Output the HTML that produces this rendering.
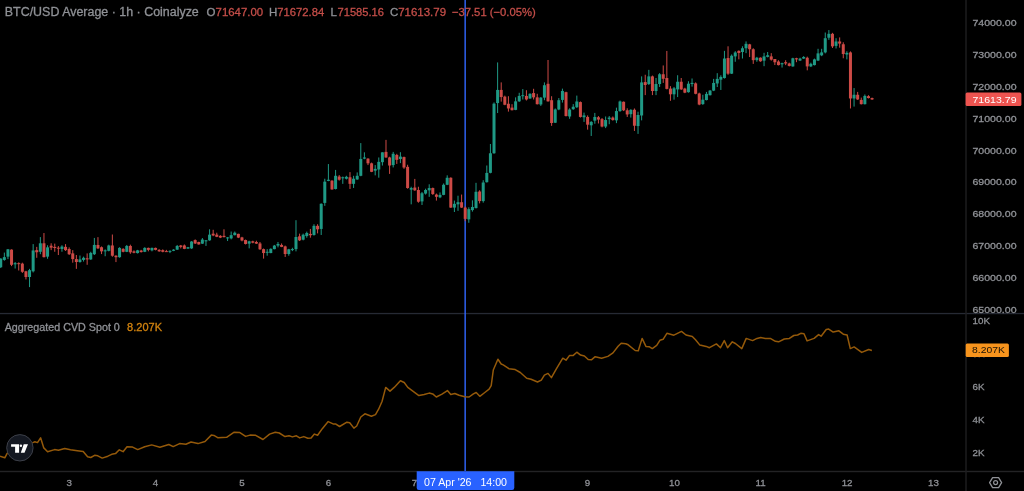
<!DOCTYPE html>
<html><head><meta charset="utf-8"><style>
html,body{margin:0;padding:0;background:#000;width:1024px;height:491px;overflow:hidden}
svg{position:absolute;left:0;top:0;font-family:"Liberation Sans",sans-serif;will-change:transform;filter:blur(0.3px)}
text{stroke-width:0.3px}
</style></head><body>
<svg width="1024" height="491" viewBox="0 0 1024 491">
<rect width="1024" height="491" fill="#000"/>
<g>
<rect x="0" y="312.9" width="1024" height="1.3" fill="#262a34"/>
<rect x="0" y="470.8" width="1024" height="1.4" fill="#232325"/>
<rect x="965.3" y="0" width="1.4" height="491" fill="#1e1e20"/>
</g>
<rect x="464.45" y="0" width="1.4" height="471" fill="#3268ff"/>
<g>
<rect x="0.24" y="258.27" width="1" height="9.77" fill="#1f9985"/>
<rect x="-0.76" y="258.60" width="3.0" height="8.63" fill="#1f9985"/>
<rect x="3.84" y="252.57" width="1" height="8.14" fill="#1f9985"/>
<rect x="2.84" y="257.13" width="3.0" height="2.77" fill="#1f9985"/>
<rect x="7.44" y="248.99" width="1" height="10.10" fill="#1f9985"/>
<rect x="6.44" y="249.32" width="3.0" height="7.33" fill="#1f9985"/>
<rect x="11.04" y="249.32" width="1" height="16.78" fill="#cd4a46"/>
<rect x="10.04" y="249.64" width="3.0" height="15.15" fill="#cd4a46"/>
<rect x="14.64" y="262.02" width="1" height="6.51" fill="#1f9985"/>
<rect x="13.64" y="263.16" width="3.0" height="1.14" fill="#1f9985"/>
<rect x="18.24" y="262.35" width="1" height="8.14" fill="#cd4a46"/>
<rect x="17.24" y="263.16" width="3.0" height="1.00" fill="#cd4a46"/>
<rect x="21.84" y="262.67" width="1" height="10.26" fill="#cd4a46"/>
<rect x="20.84" y="263.65" width="3.0" height="8.14" fill="#cd4a46"/>
<rect x="25.44" y="270.81" width="1" height="8.63" fill="#cd4a46"/>
<rect x="24.44" y="271.30" width="3.0" height="5.70" fill="#cd4a46"/>
<rect x="29.04" y="268.86" width="1" height="18.24" fill="#1f9985"/>
<rect x="28.04" y="270.16" width="3.0" height="6.84" fill="#1f9985"/>
<rect x="32.65" y="244.10" width="1" height="28.34" fill="#1f9985"/>
<rect x="31.65" y="250.46" width="3.0" height="20.85" fill="#1f9985"/>
<rect x="36.25" y="246.87" width="1" height="10.91" fill="#cd4a46"/>
<rect x="35.25" y="250.13" width="3.0" height="2.12" fill="#cd4a46"/>
<rect x="39.85" y="237.10" width="1" height="17.10" fill="#1f9985"/>
<rect x="38.85" y="243.29" width="3.0" height="8.47" fill="#1f9985"/>
<rect x="43.45" y="233.03" width="1" height="24.43" fill="#cd4a46"/>
<rect x="42.45" y="243.29" width="3.0" height="13.84" fill="#cd4a46"/>
<rect x="47.05" y="245.24" width="1" height="13.52" fill="#1f9985"/>
<rect x="46.05" y="247.36" width="3.0" height="9.28" fill="#1f9985"/>
<rect x="50.65" y="243.29" width="1" height="6.84" fill="#cd4a46"/>
<rect x="49.65" y="245.73" width="3.0" height="1.95" fill="#cd4a46"/>
<rect x="54.25" y="243.62" width="1" height="8.14" fill="#cd4a46"/>
<rect x="53.25" y="246.87" width="3.0" height="1.14" fill="#cd4a46"/>
<rect x="57.85" y="246.06" width="1" height="8.96" fill="#cd4a46"/>
<rect x="56.85" y="247.69" width="3.0" height="1.00" fill="#cd4a46"/>
<rect x="61.45" y="245.24" width="1" height="6.51" fill="#1f9985"/>
<rect x="60.45" y="246.55" width="3.0" height="2.44" fill="#1f9985"/>
<rect x="65.05" y="244.10" width="1" height="6.84" fill="#cd4a46"/>
<rect x="64.05" y="246.87" width="3.0" height="3.26" fill="#cd4a46"/>
<rect x="68.65" y="247.36" width="1" height="7.65" fill="#cd4a46"/>
<rect x="67.65" y="248.99" width="3.0" height="5.21" fill="#cd4a46"/>
<rect x="72.25" y="250.13" width="1" height="12.54" fill="#cd4a46"/>
<rect x="71.25" y="253.39" width="3.0" height="5.70" fill="#cd4a46"/>
<rect x="75.85" y="255.02" width="1" height="13.84" fill="#cd4a46"/>
<rect x="74.85" y="259.09" width="3.0" height="2.93" fill="#cd4a46"/>
<rect x="79.45" y="255.50" width="1" height="7.17" fill="#1f9985"/>
<rect x="78.45" y="259.41" width="3.0" height="2.61" fill="#1f9985"/>
<rect x="83.05" y="256.64" width="1" height="4.89" fill="#1f9985"/>
<rect x="82.05" y="257.79" width="3.0" height="2.12" fill="#1f9985"/>
<rect x="86.65" y="253.39" width="1" height="11.40" fill="#cd4a46"/>
<rect x="85.65" y="258.27" width="3.0" height="1.14" fill="#cd4a46"/>
<rect x="90.25" y="251.76" width="1" height="8.14" fill="#1f9985"/>
<rect x="89.25" y="252.90" width="3.0" height="6.51" fill="#1f9985"/>
<rect x="93.85" y="237.92" width="1" height="17.10" fill="#1f9985"/>
<rect x="92.85" y="244.92" width="3.0" height="9.28" fill="#1f9985"/>
<rect x="97.45" y="237.15" width="1" height="11.73" fill="#cd4a46"/>
<rect x="96.45" y="244.97" width="3.0" height="3.42" fill="#cd4a46"/>
<rect x="101.05" y="246.44" width="1" height="7.62" fill="#cd4a46"/>
<rect x="100.05" y="247.22" width="3.0" height="4.11" fill="#cd4a46"/>
<rect x="104.66" y="249.37" width="1" height="6.84" fill="#1f9985"/>
<rect x="103.66" y="250.35" width="3.0" height="1.00" fill="#1f9985"/>
<rect x="108.26" y="244.68" width="1" height="6.65" fill="#1f9985"/>
<rect x="107.26" y="245.46" width="3.0" height="5.38" fill="#1f9985"/>
<rect x="111.86" y="234.51" width="1" height="22.19" fill="#cd4a46"/>
<rect x="110.86" y="245.46" width="3.0" height="10.26" fill="#cd4a46"/>
<rect x="115.46" y="255.24" width="1" height="6.84" fill="#cd4a46"/>
<rect x="114.46" y="255.72" width="3.0" height="1.47" fill="#cd4a46"/>
<rect x="119.06" y="247.22" width="1" height="10.46" fill="#1f9985"/>
<rect x="118.06" y="247.90" width="3.0" height="9.29" fill="#1f9985"/>
<rect x="122.66" y="248.20" width="1" height="4.11" fill="#cd4a46"/>
<rect x="121.66" y="248.88" width="3.0" height="2.93" fill="#cd4a46"/>
<rect x="126.26" y="244.97" width="1" height="7.14" fill="#1f9985"/>
<rect x="125.26" y="245.95" width="3.0" height="5.87" fill="#1f9985"/>
<rect x="129.86" y="244.68" width="1" height="9.09" fill="#cd4a46"/>
<rect x="128.86" y="245.95" width="3.0" height="6.35" fill="#cd4a46"/>
<rect x="133.46" y="250.35" width="1" height="2.93" fill="#cd4a46"/>
<rect x="132.46" y="251.33" width="3.0" height="1.47" fill="#cd4a46"/>
<rect x="137.06" y="249.86" width="1" height="3.62" fill="#1f9985"/>
<rect x="136.06" y="250.35" width="3.0" height="2.74" fill="#1f9985"/>
<rect x="140.66" y="249.86" width="1" height="2.64" fill="#cd4a46"/>
<rect x="139.66" y="250.54" width="3.0" height="1.56" fill="#cd4a46"/>
<rect x="144.26" y="247.22" width="1" height="4.89" fill="#1f9985"/>
<rect x="143.26" y="247.90" width="3.0" height="3.91" fill="#1f9985"/>
<rect x="147.86" y="247.61" width="1" height="3.71" fill="#cd4a46"/>
<rect x="146.86" y="247.90" width="3.0" height="1.96" fill="#cd4a46"/>
<rect x="151.46" y="247.61" width="1" height="3.71" fill="#1f9985"/>
<rect x="150.46" y="247.90" width="3.0" height="2.44" fill="#1f9985"/>
<rect x="155.06" y="247.61" width="1" height="2.74" fill="#cd4a46"/>
<rect x="154.06" y="247.90" width="3.0" height="1.96" fill="#cd4a46"/>
<rect x="158.66" y="249.17" width="1" height="2.64" fill="#cd4a46"/>
<rect x="157.66" y="249.86" width="3.0" height="1.47" fill="#cd4a46"/>
<rect x="162.26" y="249.37" width="1" height="2.93" fill="#cd4a46"/>
<rect x="161.26" y="250.15" width="3.0" height="1.66" fill="#cd4a46"/>
<rect x="165.86" y="249.86" width="1" height="1.96" fill="#cd4a46"/>
<rect x="164.86" y="251.13" width="3.0" height="1.00" fill="#cd4a46"/>
<rect x="169.46" y="250.35" width="1" height="2.74" fill="#1f9985"/>
<rect x="168.46" y="250.84" width="3.0" height="1.00" fill="#1f9985"/>
<rect x="173.06" y="249.17" width="1" height="1.96" fill="#1f9985"/>
<rect x="172.06" y="249.66" width="3.0" height="1.17" fill="#1f9985"/>
<rect x="176.67" y="244.97" width="1" height="4.89" fill="#1f9985"/>
<rect x="175.67" y="245.95" width="3.0" height="3.71" fill="#1f9985"/>
<rect x="180.27" y="244.97" width="1" height="3.42" fill="#cd4a46"/>
<rect x="179.27" y="245.46" width="3.0" height="1.47" fill="#cd4a46"/>
<rect x="183.87" y="244.48" width="1" height="4.69" fill="#cd4a46"/>
<rect x="182.87" y="245.46" width="3.0" height="3.42" fill="#cd4a46"/>
<rect x="187.47" y="246.93" width="1" height="1.96" fill="#1f9985"/>
<rect x="186.47" y="247.22" width="3.0" height="1.37" fill="#1f9985"/>
<rect x="191.07" y="241.06" width="1" height="7.82" fill="#1f9985"/>
<rect x="190.07" y="241.55" width="3.0" height="6.84" fill="#1f9985"/>
<rect x="194.67" y="239.40" width="1" height="4.59" fill="#cd4a46"/>
<rect x="193.67" y="240.08" width="3.0" height="3.42" fill="#cd4a46"/>
<rect x="198.27" y="241.70" width="1" height="2.93" fill="#cd4a46"/>
<rect x="197.27" y="241.99" width="3.0" height="2.44" fill="#cd4a46"/>
<rect x="201.87" y="238.08" width="1" height="5.87" fill="#1f9985"/>
<rect x="200.87" y="239.55" width="3.0" height="4.11" fill="#1f9985"/>
<rect x="205.47" y="240.04" width="1" height="5.87" fill="#1f9985"/>
<rect x="204.47" y="240.33" width="3.0" height="1.00" fill="#1f9985"/>
<rect x="209.07" y="229.29" width="1" height="11.44" fill="#1f9985"/>
<rect x="208.07" y="234.66" width="3.0" height="5.67" fill="#1f9985"/>
<rect x="212.67" y="229.78" width="1" height="6.35" fill="#cd4a46"/>
<rect x="211.67" y="233.69" width="3.0" height="1.76" fill="#cd4a46"/>
<rect x="216.27" y="232.71" width="1" height="4.40" fill="#cd4a46"/>
<rect x="215.27" y="234.66" width="3.0" height="2.15" fill="#cd4a46"/>
<rect x="219.87" y="235.15" width="1" height="2.93" fill="#cd4a46"/>
<rect x="218.87" y="235.84" width="3.0" height="1.76" fill="#cd4a46"/>
<rect x="223.47" y="229.29" width="1" height="8.11" fill="#cd4a46"/>
<rect x="222.47" y="235.84" width="3.0" height="1.27" fill="#cd4a46"/>
<rect x="227.07" y="237.11" width="1" height="3.91" fill="#1f9985"/>
<rect x="226.07" y="237.40" width="3.0" height="1.00" fill="#1f9985"/>
<rect x="230.67" y="231.53" width="1" height="7.82" fill="#1f9985"/>
<rect x="229.67" y="235.15" width="3.0" height="3.23" fill="#1f9985"/>
<rect x="234.27" y="231.53" width="1" height="3.91" fill="#1f9985"/>
<rect x="233.27" y="232.71" width="3.0" height="2.44" fill="#1f9985"/>
<rect x="237.87" y="233.69" width="1" height="4.40" fill="#cd4a46"/>
<rect x="236.87" y="233.88" width="3.0" height="3.71" fill="#cd4a46"/>
<rect x="241.47" y="236.81" width="1" height="4.50" fill="#cd4a46"/>
<rect x="240.47" y="237.40" width="3.0" height="3.13" fill="#cd4a46"/>
<rect x="245.07" y="239.55" width="1" height="4.89" fill="#cd4a46"/>
<rect x="244.07" y="240.04" width="3.0" height="3.91" fill="#cd4a46"/>
<rect x="248.67" y="240.72" width="1" height="7.62" fill="#1f9985"/>
<rect x="247.67" y="241.31" width="3.0" height="2.35" fill="#1f9985"/>
<rect x="252.28" y="240.72" width="1" height="2.54" fill="#cd4a46"/>
<rect x="251.28" y="241.31" width="3.0" height="1.37" fill="#cd4a46"/>
<rect x="255.88" y="240.72" width="1" height="3.23" fill="#cd4a46"/>
<rect x="254.88" y="241.99" width="3.0" height="1.66" fill="#cd4a46"/>
<rect x="259.48" y="241.99" width="1" height="7.82" fill="#cd4a46"/>
<rect x="258.48" y="243.46" width="3.0" height="5.87" fill="#cd4a46"/>
<rect x="263.08" y="248.54" width="1" height="10.07" fill="#cd4a46"/>
<rect x="262.08" y="249.13" width="3.0" height="3.91" fill="#cd4a46"/>
<rect x="266.68" y="249.13" width="1" height="6.55" fill="#1f9985"/>
<rect x="265.68" y="251.77" width="3.0" height="1.00" fill="#1f9985"/>
<rect x="270.28" y="248.35" width="1" height="4.89" fill="#1f9985"/>
<rect x="269.28" y="248.84" width="3.0" height="4.20" fill="#1f9985"/>
<rect x="273.88" y="244.93" width="1" height="4.40" fill="#1f9985"/>
<rect x="272.88" y="245.61" width="3.0" height="3.52" fill="#1f9985"/>
<rect x="277.48" y="241.99" width="1" height="5.38" fill="#1f9985"/>
<rect x="276.48" y="243.95" width="3.0" height="1.66" fill="#1f9985"/>
<rect x="281.08" y="243.46" width="1" height="3.71" fill="#cd4a46"/>
<rect x="280.08" y="244.93" width="3.0" height="1.96" fill="#cd4a46"/>
<rect x="284.68" y="245.61" width="1" height="11.34" fill="#cd4a46"/>
<rect x="283.68" y="246.39" width="3.0" height="7.62" fill="#cd4a46"/>
<rect x="288.28" y="248.84" width="1" height="6.84" fill="#1f9985"/>
<rect x="287.28" y="249.33" width="3.0" height="4.69" fill="#1f9985"/>
<rect x="291.88" y="247.75" width="1" height="3.36" fill="#1f9985"/>
<rect x="290.88" y="249.09" width="3.0" height="1.00" fill="#1f9985"/>
<rect x="295.48" y="220.19" width="1" height="31.18" fill="#1f9985"/>
<rect x="294.48" y="236.99" width="3.0" height="12.10" fill="#1f9985"/>
<rect x="299.08" y="233.63" width="1" height="7.39" fill="#cd4a46"/>
<rect x="298.08" y="236.32" width="3.0" height="4.03" fill="#cd4a46"/>
<rect x="302.68" y="233.63" width="1" height="6.72" fill="#1f9985"/>
<rect x="301.68" y="234.71" width="3.0" height="4.97" fill="#1f9985"/>
<rect x="306.28" y="231.62" width="1" height="6.05" fill="#1f9985"/>
<rect x="305.28" y="232.96" width="3.0" height="3.09" fill="#1f9985"/>
<rect x="309.88" y="228.93" width="1" height="8.74" fill="#cd4a46"/>
<rect x="308.88" y="233.90" width="3.0" height="1.34" fill="#cd4a46"/>
<rect x="313.48" y="224.23" width="1" height="11.42" fill="#1f9985"/>
<rect x="312.48" y="225.84" width="3.0" height="9.14" fill="#1f9985"/>
<rect x="317.08" y="224.23" width="1" height="9.14" fill="#cd4a46"/>
<rect x="316.08" y="225.84" width="3.0" height="3.49" fill="#cd4a46"/>
<rect x="320.69" y="203.39" width="1" height="31.59" fill="#1f9985"/>
<rect x="319.69" y="203.80" width="3.0" height="25.13" fill="#1f9985"/>
<rect x="324.29" y="178.72" width="1" height="27.13" fill="#1f9985"/>
<rect x="323.29" y="181.65" width="3.0" height="21.26" fill="#1f9985"/>
<rect x="327.89" y="164.06" width="1" height="17.16" fill="#1f9985"/>
<rect x="326.89" y="179.75" width="3.0" height="1.17" fill="#1f9985"/>
<rect x="331.49" y="180.19" width="1" height="9.53" fill="#cd4a46"/>
<rect x="330.49" y="180.63" width="3.0" height="8.80" fill="#cd4a46"/>
<rect x="335.09" y="169.92" width="1" height="19.50" fill="#1f9985"/>
<rect x="334.09" y="175.79" width="3.0" height="13.20" fill="#1f9985"/>
<rect x="338.69" y="175.06" width="1" height="5.57" fill="#cd4a46"/>
<rect x="337.69" y="176.52" width="3.0" height="3.23" fill="#cd4a46"/>
<rect x="342.29" y="176.52" width="1" height="7.33" fill="#1f9985"/>
<rect x="341.29" y="177.26" width="3.0" height="1.03" fill="#1f9985"/>
<rect x="345.89" y="175.79" width="1" height="3.67" fill="#1f9985"/>
<rect x="344.89" y="176.82" width="3.0" height="1.91" fill="#1f9985"/>
<rect x="349.49" y="172.12" width="1" height="16.86" fill="#cd4a46"/>
<rect x="348.49" y="177.26" width="3.0" height="6.60" fill="#cd4a46"/>
<rect x="353.09" y="175.79" width="1" height="12.17" fill="#1f9985"/>
<rect x="352.09" y="178.72" width="3.0" height="5.13" fill="#1f9985"/>
<rect x="356.69" y="172.42" width="1" height="7.33" fill="#1f9985"/>
<rect x="355.69" y="175.79" width="3.0" height="3.67" fill="#1f9985"/>
<rect x="360.29" y="143.09" width="1" height="33.14" fill="#1f9985"/>
<rect x="359.29" y="158.93" width="3.0" height="16.86" fill="#1f9985"/>
<rect x="363.89" y="152.33" width="1" height="6.89" fill="#1f9985"/>
<rect x="362.89" y="157.46" width="3.0" height="1.17" fill="#1f9985"/>
<rect x="367.49" y="158.19" width="1" height="6.89" fill="#cd4a46"/>
<rect x="366.49" y="158.63" width="3.0" height="4.69" fill="#cd4a46"/>
<rect x="371.09" y="162.59" width="1" height="9.53" fill="#cd4a46"/>
<rect x="370.09" y="163.33" width="3.0" height="8.50" fill="#cd4a46"/>
<rect x="374.69" y="165.09" width="1" height="10.26" fill="#1f9985"/>
<rect x="373.69" y="168.90" width="3.0" height="1.76" fill="#1f9985"/>
<rect x="378.29" y="157.46" width="1" height="20.23" fill="#1f9985"/>
<rect x="377.29" y="161.86" width="3.0" height="7.62" fill="#1f9985"/>
<rect x="381.89" y="152.33" width="1" height="13.20" fill="#1f9985"/>
<rect x="380.89" y="152.33" width="3.0" height="9.82" fill="#1f9985"/>
<rect x="385.49" y="139.87" width="1" height="17.89" fill="#cd4a46"/>
<rect x="384.49" y="151.89" width="3.0" height="5.57" fill="#cd4a46"/>
<rect x="389.09" y="156.73" width="1" height="17.16" fill="#cd4a46"/>
<rect x="388.09" y="157.46" width="3.0" height="8.06" fill="#cd4a46"/>
<rect x="392.69" y="151.89" width="1" height="15.54" fill="#1f9985"/>
<rect x="391.69" y="153.79" width="3.0" height="11.29" fill="#1f9985"/>
<rect x="396.30" y="153.82" width="1" height="10.10" fill="#cd4a46"/>
<rect x="395.30" y="154.96" width="3.0" height="4.89" fill="#cd4a46"/>
<rect x="399.90" y="152.19" width="1" height="10.92" fill="#1f9985"/>
<rect x="398.90" y="156.59" width="3.0" height="2.44" fill="#1f9985"/>
<rect x="403.50" y="156.59" width="1" height="12.22" fill="#cd4a46"/>
<rect x="402.50" y="157.08" width="3.0" height="10.43" fill="#cd4a46"/>
<rect x="407.10" y="164.74" width="1" height="23.95" fill="#cd4a46"/>
<rect x="406.10" y="166.86" width="3.0" height="21.18" fill="#cd4a46"/>
<rect x="410.70" y="186.73" width="1" height="17.60" fill="#1f9985"/>
<rect x="409.70" y="188.04" width="3.0" height="1.63" fill="#1f9985"/>
<rect x="414.30" y="178.91" width="1" height="11.89" fill="#cd4a46"/>
<rect x="413.30" y="187.55" width="3.0" height="2.77" fill="#cd4a46"/>
<rect x="417.90" y="186.73" width="1" height="15.97" fill="#cd4a46"/>
<rect x="416.90" y="189.99" width="3.0" height="11.73" fill="#cd4a46"/>
<rect x="421.50" y="191.95" width="1" height="13.03" fill="#1f9985"/>
<rect x="420.50" y="193.25" width="3.0" height="8.15" fill="#1f9985"/>
<rect x="425.10" y="188.69" width="1" height="5.87" fill="#1f9985"/>
<rect x="424.10" y="189.99" width="3.0" height="3.58" fill="#1f9985"/>
<rect x="428.70" y="184.29" width="1" height="12.55" fill="#1f9985"/>
<rect x="427.70" y="188.04" width="3.0" height="2.28" fill="#1f9985"/>
<rect x="432.30" y="187.55" width="1" height="7.33" fill="#cd4a46"/>
<rect x="431.30" y="188.04" width="3.0" height="6.03" fill="#cd4a46"/>
<rect x="435.90" y="193.58" width="1" height="7.01" fill="#cd4a46"/>
<rect x="434.90" y="194.55" width="3.0" height="2.28" fill="#cd4a46"/>
<rect x="439.50" y="192.44" width="1" height="5.70" fill="#1f9985"/>
<rect x="438.50" y="194.88" width="3.0" height="2.44" fill="#1f9985"/>
<rect x="443.10" y="183.47" width="1" height="11.73" fill="#1f9985"/>
<rect x="442.10" y="184.78" width="3.0" height="10.10" fill="#1f9985"/>
<rect x="446.70" y="175.33" width="1" height="9.78" fill="#1f9985"/>
<rect x="445.70" y="177.77" width="3.0" height="7.01" fill="#1f9985"/>
<rect x="450.30" y="177.28" width="1" height="30.63" fill="#cd4a46"/>
<rect x="449.30" y="177.77" width="3.0" height="29.82" fill="#cd4a46"/>
<rect x="453.90" y="200.58" width="1" height="11.41" fill="#1f9985"/>
<rect x="452.90" y="203.84" width="3.0" height="3.75" fill="#1f9985"/>
<rect x="457.50" y="195.69" width="1" height="15.15" fill="#1f9985"/>
<rect x="456.50" y="202.21" width="3.0" height="2.12" fill="#1f9985"/>
<rect x="461.10" y="194.55" width="1" height="13.36" fill="#cd4a46"/>
<rect x="460.10" y="202.21" width="3.0" height="5.38" fill="#cd4a46"/>
<rect x="464.71" y="206.50" width="1" height="14.71" fill="#cd4a46"/>
<rect x="463.71" y="207.59" width="3.0" height="11.30" fill="#cd4a46"/>
<rect x="468.31" y="207.28" width="1" height="15.48" fill="#1f9985"/>
<rect x="467.31" y="209.13" width="3.0" height="10.22" fill="#1f9985"/>
<rect x="471.91" y="200.31" width="1" height="11.30" fill="#1f9985"/>
<rect x="470.91" y="206.97" width="3.0" height="3.10" fill="#1f9985"/>
<rect x="475.51" y="182.82" width="1" height="25.70" fill="#1f9985"/>
<rect x="474.51" y="191.80" width="3.0" height="16.25" fill="#1f9985"/>
<rect x="479.11" y="190.25" width="1" height="13.16" fill="#cd4a46"/>
<rect x="478.11" y="191.49" width="3.0" height="9.60" fill="#cd4a46"/>
<rect x="482.71" y="180.19" width="1" height="22.45" fill="#1f9985"/>
<rect x="481.71" y="182.51" width="3.0" height="18.58" fill="#1f9985"/>
<rect x="486.31" y="165.48" width="1" height="17.03" fill="#1f9985"/>
<rect x="485.31" y="172.91" width="3.0" height="9.29" fill="#1f9985"/>
<rect x="489.91" y="143.98" width="1" height="29.33" fill="#1f9985"/>
<rect x="488.91" y="153.27" width="3.0" height="19.55" fill="#1f9985"/>
<rect x="493.51" y="102.44" width="1" height="51.32" fill="#1f9985"/>
<rect x="492.51" y="103.66" width="3.0" height="49.61" fill="#1f9985"/>
<rect x="497.11" y="62.42" width="1" height="50.61" fill="#1f9985"/>
<rect x="496.11" y="89.93" width="3.0" height="13.12" fill="#1f9985"/>
<rect x="500.71" y="82.38" width="1" height="19.25" fill="#cd4a46"/>
<rect x="499.71" y="89.93" width="3.0" height="7.13" fill="#cd4a46"/>
<rect x="504.31" y="95.64" width="1" height="9.55" fill="#cd4a46"/>
<rect x="503.31" y="96.63" width="3.0" height="8.13" fill="#cd4a46"/>
<rect x="507.91" y="96.21" width="1" height="15.40" fill="#cd4a46"/>
<rect x="506.91" y="103.76" width="3.0" height="4.70" fill="#cd4a46"/>
<rect x="511.51" y="104.19" width="1" height="6.27" fill="#cd4a46"/>
<rect x="510.51" y="107.61" width="3.0" height="2.57" fill="#cd4a46"/>
<rect x="515.11" y="97.35" width="1" height="12.83" fill="#1f9985"/>
<rect x="514.11" y="101.34" width="3.0" height="8.55" fill="#1f9985"/>
<rect x="518.71" y="92.78" width="1" height="9.12" fill="#1f9985"/>
<rect x="517.71" y="95.92" width="3.0" height="5.42" fill="#1f9985"/>
<rect x="522.31" y="89.08" width="1" height="10.41" fill="#1f9985"/>
<rect x="521.31" y="95.21" width="3.0" height="1.00" fill="#1f9985"/>
<rect x="525.91" y="90.22" width="1" height="10.27" fill="#cd4a46"/>
<rect x="524.91" y="95.92" width="3.0" height="3.56" fill="#cd4a46"/>
<rect x="529.51" y="93.35" width="1" height="5.42" fill="#1f9985"/>
<rect x="528.51" y="93.78" width="3.0" height="4.70" fill="#1f9985"/>
<rect x="533.11" y="88.79" width="1" height="10.69" fill="#cd4a46"/>
<rect x="532.11" y="93.07" width="3.0" height="4.28" fill="#cd4a46"/>
<rect x="536.72" y="93.78" width="1" height="10.69" fill="#cd4a46"/>
<rect x="535.72" y="97.35" width="3.0" height="6.84" fill="#cd4a46"/>
<rect x="540.32" y="97.06" width="1" height="8.84" fill="#1f9985"/>
<rect x="539.32" y="97.63" width="3.0" height="6.84" fill="#1f9985"/>
<rect x="543.92" y="82.38" width="1" height="17.82" fill="#1f9985"/>
<rect x="542.92" y="85.23" width="3.0" height="12.40" fill="#1f9985"/>
<rect x="547.52" y="59.99" width="1" height="41.63" fill="#cd4a46"/>
<rect x="546.52" y="83.80" width="3.0" height="17.54" fill="#cd4a46"/>
<rect x="551.12" y="96.21" width="1" height="29.65" fill="#cd4a46"/>
<rect x="550.12" y="100.20" width="3.0" height="22.81" fill="#cd4a46"/>
<rect x="554.72" y="108.47" width="1" height="14.54" fill="#1f9985"/>
<rect x="553.72" y="109.46" width="3.0" height="13.26" fill="#1f9985"/>
<rect x="558.32" y="98.06" width="1" height="12.12" fill="#1f9985"/>
<rect x="557.32" y="100.20" width="3.0" height="9.27" fill="#1f9985"/>
<rect x="561.92" y="88.63" width="1" height="13.93" fill="#1f9985"/>
<rect x="560.92" y="90.95" width="3.0" height="8.97" fill="#1f9985"/>
<rect x="565.52" y="91.72" width="1" height="24.76" fill="#cd4a46"/>
<rect x="564.52" y="92.19" width="3.0" height="23.83" fill="#cd4a46"/>
<rect x="569.12" y="108.28" width="1" height="10.52" fill="#1f9985"/>
<rect x="568.12" y="109.52" width="3.0" height="6.96" fill="#1f9985"/>
<rect x="572.72" y="104.10" width="1" height="5.73" fill="#1f9985"/>
<rect x="571.72" y="106.73" width="3.0" height="2.48" fill="#1f9985"/>
<rect x="576.32" y="95.59" width="1" height="12.38" fill="#1f9985"/>
<rect x="575.32" y="101.47" width="3.0" height="5.73" fill="#1f9985"/>
<rect x="579.92" y="101.47" width="1" height="16.09" fill="#cd4a46"/>
<rect x="578.92" y="102.09" width="3.0" height="14.85" fill="#cd4a46"/>
<rect x="583.52" y="112.61" width="1" height="9.28" fill="#1f9985"/>
<rect x="582.52" y="115.40" width="3.0" height="1.86" fill="#1f9985"/>
<rect x="587.12" y="115.40" width="1" height="14.24" fill="#cd4a46"/>
<rect x="586.12" y="116.94" width="3.0" height="7.74" fill="#cd4a46"/>
<rect x="590.72" y="121.12" width="1" height="14.85" fill="#1f9985"/>
<rect x="589.72" y="121.90" width="3.0" height="3.40" fill="#1f9985"/>
<rect x="594.32" y="112.92" width="1" height="10.83" fill="#1f9985"/>
<rect x="593.32" y="116.94" width="3.0" height="3.71" fill="#1f9985"/>
<rect x="597.92" y="116.02" width="1" height="7.43" fill="#cd4a46"/>
<rect x="596.92" y="117.25" width="3.0" height="2.32" fill="#cd4a46"/>
<rect x="601.52" y="118.03" width="1" height="9.28" fill="#cd4a46"/>
<rect x="600.52" y="119.11" width="3.0" height="7.43" fill="#cd4a46"/>
<rect x="605.12" y="116.48" width="1" height="11.61" fill="#1f9985"/>
<rect x="604.12" y="120.04" width="3.0" height="6.50" fill="#1f9985"/>
<rect x="608.72" y="116.02" width="1" height="8.20" fill="#1f9985"/>
<rect x="607.72" y="117.56" width="3.0" height="1.55" fill="#1f9985"/>
<rect x="612.33" y="116.48" width="1" height="4.18" fill="#cd4a46"/>
<rect x="611.33" y="117.56" width="3.0" height="2.48" fill="#cd4a46"/>
<rect x="615.93" y="107.66" width="1" height="15.47" fill="#1f9985"/>
<rect x="614.93" y="111.06" width="3.0" height="9.28" fill="#1f9985"/>
<rect x="619.53" y="100.54" width="1" height="11.30" fill="#1f9985"/>
<rect x="618.53" y="101.47" width="3.0" height="9.59" fill="#1f9985"/>
<rect x="623.13" y="101.47" width="1" height="9.59" fill="#cd4a46"/>
<rect x="622.13" y="101.78" width="3.0" height="8.51" fill="#cd4a46"/>
<rect x="626.73" y="108.28" width="1" height="8.67" fill="#cd4a46"/>
<rect x="625.73" y="110.29" width="3.0" height="4.18" fill="#cd4a46"/>
<rect x="630.33" y="109.21" width="1" height="8.36" fill="#1f9985"/>
<rect x="629.33" y="109.83" width="3.0" height="4.33" fill="#1f9985"/>
<rect x="633.93" y="108.46" width="1" height="22.48" fill="#cd4a46"/>
<rect x="632.93" y="109.77" width="3.0" height="15.97" fill="#cd4a46"/>
<rect x="637.53" y="111.72" width="1" height="22.16" fill="#1f9985"/>
<rect x="636.53" y="114.98" width="3.0" height="11.08" fill="#1f9985"/>
<rect x="641.13" y="76.37" width="1" height="43.99" fill="#1f9985"/>
<rect x="640.13" y="82.40" width="3.0" height="33.08" fill="#1f9985"/>
<rect x="644.73" y="74.74" width="1" height="20.37" fill="#cd4a46"/>
<rect x="643.73" y="82.07" width="3.0" height="2.93" fill="#cd4a46"/>
<rect x="648.33" y="69.85" width="1" height="15.15" fill="#1f9985"/>
<rect x="647.33" y="76.37" width="3.0" height="7.66" fill="#1f9985"/>
<rect x="651.93" y="75.55" width="1" height="19.55" fill="#cd4a46"/>
<rect x="650.93" y="76.37" width="3.0" height="14.66" fill="#cd4a46"/>
<rect x="655.53" y="78.00" width="1" height="17.11" fill="#1f9985"/>
<rect x="654.53" y="84.02" width="3.0" height="7.01" fill="#1f9985"/>
<rect x="659.13" y="73.11" width="1" height="13.85" fill="#1f9985"/>
<rect x="658.13" y="74.25" width="3.0" height="9.78" fill="#1f9985"/>
<rect x="662.73" y="65.45" width="1" height="17.43" fill="#cd4a46"/>
<rect x="661.73" y="74.25" width="3.0" height="4.56" fill="#cd4a46"/>
<rect x="666.33" y="50.95" width="1" height="38.45" fill="#cd4a46"/>
<rect x="665.33" y="78.00" width="3.0" height="10.92" fill="#cd4a46"/>
<rect x="669.93" y="86.14" width="1" height="14.66" fill="#cd4a46"/>
<rect x="668.93" y="88.59" width="3.0" height="5.70" fill="#cd4a46"/>
<rect x="673.53" y="86.96" width="1" height="12.71" fill="#1f9985"/>
<rect x="672.53" y="88.26" width="3.0" height="6.03" fill="#1f9985"/>
<rect x="677.13" y="75.23" width="1" height="21.83" fill="#1f9985"/>
<rect x="676.13" y="81.74" width="3.0" height="7.66" fill="#1f9985"/>
<rect x="680.73" y="78.00" width="1" height="11.89" fill="#cd4a46"/>
<rect x="679.73" y="81.74" width="3.0" height="7.66" fill="#cd4a46"/>
<rect x="684.34" y="87.77" width="1" height="5.38" fill="#cd4a46"/>
<rect x="683.34" y="88.59" width="3.0" height="4.07" fill="#cd4a46"/>
<rect x="687.94" y="81.25" width="1" height="11.41" fill="#1f9985"/>
<rect x="686.94" y="83.70" width="3.0" height="8.47" fill="#1f9985"/>
<rect x="691.54" y="78.48" width="1" height="8.15" fill="#1f9985"/>
<rect x="690.54" y="82.88" width="3.0" height="1.14" fill="#1f9985"/>
<rect x="695.14" y="82.40" width="1" height="11.89" fill="#cd4a46"/>
<rect x="694.14" y="83.37" width="3.0" height="10.43" fill="#cd4a46"/>
<rect x="698.74" y="92.66" width="1" height="12.55" fill="#cd4a46"/>
<rect x="697.74" y="93.47" width="3.0" height="11.08" fill="#cd4a46"/>
<rect x="702.34" y="94.78" width="1" height="10.10" fill="#1f9985"/>
<rect x="701.34" y="99.67" width="3.0" height="4.40" fill="#1f9985"/>
<rect x="705.94" y="91.91" width="1" height="8.47" fill="#1f9985"/>
<rect x="704.94" y="93.87" width="3.0" height="6.19" fill="#1f9985"/>
<rect x="709.54" y="89.96" width="1" height="5.54" fill="#1f9985"/>
<rect x="708.54" y="90.61" width="3.0" height="4.56" fill="#1f9985"/>
<rect x="713.14" y="78.88" width="1" height="12.22" fill="#1f9985"/>
<rect x="712.14" y="82.95" width="3.0" height="7.66" fill="#1f9985"/>
<rect x="716.74" y="73.18" width="1" height="13.85" fill="#1f9985"/>
<rect x="715.74" y="78.88" width="3.0" height="4.56" fill="#1f9985"/>
<rect x="720.34" y="75.30" width="1" height="14.66" fill="#1f9985"/>
<rect x="719.34" y="76.92" width="3.0" height="2.77" fill="#1f9985"/>
<rect x="723.94" y="50.86" width="1" height="27.70" fill="#1f9985"/>
<rect x="722.94" y="58.51" width="3.0" height="19.55" fill="#1f9985"/>
<rect x="727.54" y="46.29" width="1" height="28.51" fill="#cd4a46"/>
<rect x="726.54" y="58.02" width="3.0" height="15.64" fill="#cd4a46"/>
<rect x="731.14" y="54.44" width="1" height="19.55" fill="#1f9985"/>
<rect x="730.14" y="55.74" width="3.0" height="17.92" fill="#1f9985"/>
<rect x="734.74" y="51.18" width="1" height="10.59" fill="#1f9985"/>
<rect x="733.74" y="52.48" width="3.0" height="3.91" fill="#1f9985"/>
<rect x="738.34" y="50.37" width="1" height="8.96" fill="#cd4a46"/>
<rect x="737.34" y="50.86" width="3.0" height="2.12" fill="#cd4a46"/>
<rect x="741.94" y="46.29" width="1" height="12.22" fill="#1f9985"/>
<rect x="740.94" y="48.25" width="3.0" height="3.75" fill="#1f9985"/>
<rect x="745.54" y="41.41" width="1" height="11.73" fill="#1f9985"/>
<rect x="744.54" y="43.85" width="3.0" height="4.40" fill="#1f9985"/>
<rect x="749.14" y="43.85" width="1" height="13.20" fill="#cd4a46"/>
<rect x="748.14" y="44.34" width="3.0" height="4.89" fill="#cd4a46"/>
<rect x="752.74" y="48.25" width="1" height="15.64" fill="#cd4a46"/>
<rect x="751.74" y="49.23" width="3.0" height="10.92" fill="#cd4a46"/>
<rect x="756.35" y="56.88" width="1" height="4.89" fill="#1f9985"/>
<rect x="755.35" y="57.70" width="3.0" height="2.44" fill="#1f9985"/>
<rect x="759.95" y="57.37" width="1" height="4.40" fill="#cd4a46"/>
<rect x="758.95" y="57.70" width="3.0" height="3.58" fill="#cd4a46"/>
<rect x="763.55" y="52.81" width="1" height="13.36" fill="#1f9985"/>
<rect x="762.55" y="56.40" width="3.0" height="4.24" fill="#1f9985"/>
<rect x="767.15" y="52.00" width="1" height="5.38" fill="#1f9985"/>
<rect x="766.15" y="55.25" width="3.0" height="1.63" fill="#1f9985"/>
<rect x="770.75" y="53.14" width="1" height="7.49" fill="#cd4a46"/>
<rect x="769.75" y="56.40" width="3.0" height="3.26" fill="#cd4a46"/>
<rect x="774.35" y="59.00" width="1" height="6.03" fill="#cd4a46"/>
<rect x="773.35" y="59.00" width="3.0" height="3.26" fill="#cd4a46"/>
<rect x="777.95" y="60.22" width="1" height="5.21" fill="#cd4a46"/>
<rect x="776.95" y="61.52" width="3.0" height="3.58" fill="#cd4a46"/>
<rect x="781.55" y="62.66" width="1" height="4.89" fill="#1f9985"/>
<rect x="780.55" y="63.15" width="3.0" height="1.14" fill="#1f9985"/>
<rect x="785.15" y="60.22" width="1" height="4.89" fill="#cd4a46"/>
<rect x="784.15" y="62.17" width="3.0" height="1.30" fill="#cd4a46"/>
<rect x="788.75" y="62.66" width="1" height="3.75" fill="#cd4a46"/>
<rect x="787.75" y="63.47" width="3.0" height="2.44" fill="#cd4a46"/>
<rect x="792.35" y="57.77" width="1" height="8.96" fill="#1f9985"/>
<rect x="791.35" y="58.26" width="3.0" height="8.15" fill="#1f9985"/>
<rect x="795.95" y="57.77" width="1" height="4.40" fill="#cd4a46"/>
<rect x="794.95" y="58.26" width="3.0" height="1.14" fill="#cd4a46"/>
<rect x="799.55" y="57.77" width="1" height="3.26" fill="#1f9985"/>
<rect x="798.55" y="58.59" width="3.0" height="1.96" fill="#1f9985"/>
<rect x="803.15" y="56.14" width="1" height="2.77" fill="#1f9985"/>
<rect x="802.15" y="56.96" width="3.0" height="1.63" fill="#1f9985"/>
<rect x="806.75" y="56.63" width="1" height="13.69" fill="#cd4a46"/>
<rect x="805.75" y="57.77" width="3.0" height="8.64" fill="#cd4a46"/>
<rect x="810.35" y="62.66" width="1" height="4.40" fill="#1f9985"/>
<rect x="809.35" y="63.80" width="3.0" height="2.61" fill="#1f9985"/>
<rect x="813.95" y="58.59" width="1" height="6.84" fill="#1f9985"/>
<rect x="812.95" y="59.40" width="3.0" height="5.70" fill="#1f9985"/>
<rect x="817.55" y="48.81" width="1" height="12.22" fill="#1f9985"/>
<rect x="816.55" y="53.37" width="3.0" height="7.17" fill="#1f9985"/>
<rect x="821.15" y="48.81" width="1" height="7.33" fill="#1f9985"/>
<rect x="820.15" y="52.40" width="3.0" height="2.93" fill="#1f9985"/>
<rect x="824.75" y="32.52" width="1" height="20.86" fill="#1f9985"/>
<rect x="823.75" y="38.22" width="3.0" height="14.18" fill="#1f9985"/>
<rect x="828.36" y="30.07" width="1" height="9.78" fill="#1f9985"/>
<rect x="827.36" y="33.82" width="3.0" height="3.91" fill="#1f9985"/>
<rect x="831.96" y="32.84" width="1" height="15.15" fill="#cd4a46"/>
<rect x="830.96" y="33.82" width="3.0" height="12.55" fill="#cd4a46"/>
<rect x="835.56" y="38.22" width="1" height="10.26" fill="#1f9985"/>
<rect x="834.56" y="41.48" width="3.0" height="4.40" fill="#1f9985"/>
<rect x="839.16" y="37.41" width="1" height="10.26" fill="#cd4a46"/>
<rect x="838.16" y="41.48" width="3.0" height="2.12" fill="#cd4a46"/>
<rect x="842.76" y="42.29" width="1" height="15.97" fill="#cd4a46"/>
<rect x="841.76" y="44.25" width="3.0" height="9.78" fill="#cd4a46"/>
<rect x="846.36" y="51.25" width="1" height="8.15" fill="#1f9985"/>
<rect x="845.36" y="52.88" width="3.0" height="1.63" fill="#1f9985"/>
<rect x="849.96" y="51.42" width="1" height="57.03" fill="#cd4a46"/>
<rect x="848.96" y="52.42" width="3.0" height="46.05" fill="#cd4a46"/>
<rect x="853.56" y="88.06" width="1" height="18.53" fill="#1f9985"/>
<rect x="852.56" y="94.76" width="3.0" height="3.71" fill="#1f9985"/>
<rect x="857.16" y="91.91" width="1" height="7.98" fill="#cd4a46"/>
<rect x="856.16" y="94.76" width="3.0" height="4.70" fill="#cd4a46"/>
<rect x="860.76" y="97.61" width="1" height="6.84" fill="#cd4a46"/>
<rect x="859.76" y="99.89" width="3.0" height="4.28" fill="#cd4a46"/>
<rect x="864.36" y="94.47" width="1" height="9.98" fill="#1f9985"/>
<rect x="863.36" y="95.90" width="3.0" height="8.27" fill="#1f9985"/>
<rect x="867.96" y="95.19" width="1" height="3.28" fill="#cd4a46"/>
<rect x="866.96" y="96.19" width="3.0" height="1.85" fill="#cd4a46"/>
<rect x="871.56" y="97.61" width="1" height="2.28" fill="#cd4a46"/>
<rect x="870.56" y="98.04" width="3.0" height="1.43" fill="#cd4a46"/>
</g>
<polyline points="0.0,456.2 4.8,457.8 7.0,453.6 12.0,449.0 20.0,446.0 28.0,444.0 32.8,442.6 34.9,441.8 37.5,442.6 40.6,437.8 43.8,447.9 47.6,451.7 54.6,449.6 58.4,450.2 64.7,448.6 70.5,449.8 77.4,450.7 83.2,451.5 87.6,456.8 90.8,457.5 94.6,455.3 97.8,455.8 102.2,458.1 107.9,456.2 111.7,454.3 115.5,453.6 119.3,449.8 123.1,451.7 127.0,446.7 132.6,447.1 137.7,449.6 144.7,446.8 151.7,444.9 159.9,447.2 168.8,444.5 173.2,446.6 179.6,443.6 185.9,444.3 191.0,442.0 198.0,443.6 205.0,441.5 211.3,435.1 213.9,435.4 217.7,437.7 226.6,437.3 234.2,432.2 239.9,432.6 245.6,436.4 250.0,435.1 255.7,435.3 263.0,439.5 269.6,434.1 275.3,432.2 279.3,433.0 285.0,436.6 289.1,435.8 292.4,436.9 296.4,435.8 299.7,437.9 303.8,436.6 307.8,438.2 311.1,437.9 314.4,434.1 317.6,435.3 322.5,428.4 328.2,421.6 333.1,423.9 335.5,423.9 339.6,426.5 346.9,422.2 349.7,422.7 353.9,428.1 356.7,426.0 360.8,417.0 364.9,413.8 371.4,416.2 375.5,414.6 378.6,409.2 382.1,401.3 385.7,387.4 390.0,391.1 394.2,387.4 400.4,380.7 404.2,382.5 407.8,387.4 413.5,391.6 418.9,395.6 424.2,394.5 429.2,393.1 432.7,393.9 436.3,397.0 442.0,394.2 447.4,390.6 450.8,394.5 454.8,393.5 459.1,395.3 464.8,396.8 469.1,397.0 473.4,393.9 476.2,392.5 479.8,396.3 484.8,392.5 489.1,389.2 491.2,385.6 493.3,370.0 497.9,359.3 501.2,364.0 503.2,364.9 508.9,368.7 515.2,369.6 520.3,372.5 526.7,378.2 531.1,379.3 537.5,382.0 541.3,380.1 544.4,375.1 548.0,373.4 551.4,377.6 556.5,368.7 562.8,358.2 566.0,360.2 569.6,355.4 573.0,355.6 576.8,352.2 580.6,355.1 584.4,356.0 588.2,359.5 591.4,359.8 595.2,356.7 601.6,358.2 607.9,356.4 613.0,352.9 618.1,346.3 621.2,343.3 625.7,343.7 628.2,344.8 635.2,350.5 638.3,350.7 642.1,338.4 645.9,346.4 649.1,346.7 652.3,348.6 656.7,345.4 659.9,340.3 663.1,339.3 666.9,333.3 673.9,335.2 681.5,331.4 686.0,335.0 692.3,336.5 695.5,339.7 699.9,345.1 706.2,346.4 709.4,347.7 716.4,343.9 720.5,347.7 724.3,340.6 727.6,347.7 732.3,341.8 735.4,343.5 741.8,348.6 746.2,338.4 752.6,340.6 757.0,338.4 760.8,337.5 765.2,338.4 770.3,338.4 775.4,341.3 778.6,341.8 784.3,339.0 789.4,338.4 793.8,335.5 797.6,335.0 800.8,333.3 804.0,333.7 807.1,340.9 814.1,338.4 818.6,334.6 821.1,336.2 826.2,329.5 828.7,329.1 833.2,332.1 838.9,330.8 843.3,334.2 847.1,335.0 850.3,348.6 854.1,346.9 861.7,352.4 868.7,349.5 871.9,350.5" fill="none" stroke="#94590a" stroke-width="1.5" stroke-linejoin="round"/>
<text x="4.8" y="15.6" font-size="12" fill="#8f9196" stroke="#8f9196" text-anchor="start" textLength="194" lengthAdjust="spacingAndGlyphs">BTC/USD Average · 1h · Coinalyze</text>
<text x="206.4" y="15.6" font-size="11.5" fill="#8f9196" stroke="#8f9196" text-anchor="start">O</text>
<text x="215.6" y="15.6" font-size="11.5" fill="#c44e49" stroke="#c44e49" text-anchor="start" textLength="47.5" lengthAdjust="spacingAndGlyphs">71647.00</text>
<text x="268.9" y="15.6" font-size="11.5" fill="#8f9196" stroke="#8f9196" text-anchor="start">H</text>
<text x="277.2" y="15.6" font-size="11.5" fill="#c44e49" stroke="#c44e49" text-anchor="start" textLength="47" lengthAdjust="spacingAndGlyphs">71672.84</text>
<text x="330.4" y="15.6" font-size="11.5" fill="#8f9196" stroke="#8f9196" text-anchor="start">L</text>
<text x="337.5" y="15.6" font-size="11.5" fill="#c44e49" stroke="#c44e49" text-anchor="start" textLength="46.5" lengthAdjust="spacingAndGlyphs">71585.16</text>
<text x="389.9" y="15.6" font-size="11.5" fill="#8f9196" stroke="#8f9196" text-anchor="start">C</text>
<text x="398.2" y="15.6" font-size="11.5" fill="#c44e49" stroke="#c44e49" text-anchor="start" textLength="47.9" lengthAdjust="spacingAndGlyphs">71613.79</text>
<text x="451.9" y="15.6" font-size="11.5" fill="#c44e49" stroke="#c44e49" text-anchor="start" textLength="83.9" lengthAdjust="spacingAndGlyphs">−37.51 (−0.05%)</text>
<text x="4.65" y="330.7" font-size="10.5" fill="#8f9196" stroke="#8f9196" text-anchor="start" textLength="115.2" lengthAdjust="spacingAndGlyphs">Aggregated CVD Spot 0</text>
<text x="127.1" y="330.7" font-size="10.5" fill="#d0820f" stroke="#d0820f" text-anchor="start" textLength="34.9" lengthAdjust="spacingAndGlyphs">8.207K</text>
<text x="972.5" y="26.2" font-size="9.75" fill="#8f9196" stroke="#8f9196" text-anchor="start" textLength="44" lengthAdjust="spacingAndGlyphs">74000.00</text>
<text x="972.5" y="58.04" font-size="9.75" fill="#8f9196" stroke="#8f9196" text-anchor="start" textLength="44" lengthAdjust="spacingAndGlyphs">73000.00</text>
<text x="972.5" y="89.88" font-size="9.75" fill="#8f9196" stroke="#8f9196" text-anchor="start" textLength="44" lengthAdjust="spacingAndGlyphs">72000.00</text>
<text x="972.5" y="121.72" font-size="9.75" fill="#8f9196" stroke="#8f9196" text-anchor="start" textLength="44" lengthAdjust="spacingAndGlyphs">71000.00</text>
<text x="972.5" y="153.56" font-size="9.75" fill="#8f9196" stroke="#8f9196" text-anchor="start" textLength="44" lengthAdjust="spacingAndGlyphs">70000.00</text>
<text x="972.5" y="185.39999999999998" font-size="9.75" fill="#8f9196" stroke="#8f9196" text-anchor="start" textLength="44" lengthAdjust="spacingAndGlyphs">69000.00</text>
<text x="972.5" y="217.23999999999998" font-size="9.75" fill="#8f9196" stroke="#8f9196" text-anchor="start" textLength="44" lengthAdjust="spacingAndGlyphs">68000.00</text>
<text x="972.5" y="249.07999999999998" font-size="9.75" fill="#8f9196" stroke="#8f9196" text-anchor="start" textLength="44" lengthAdjust="spacingAndGlyphs">67000.00</text>
<text x="972.5" y="280.92" font-size="9.75" fill="#8f9196" stroke="#8f9196" text-anchor="start" textLength="44" lengthAdjust="spacingAndGlyphs">66000.00</text>
<text x="972.5" y="312.76" font-size="9.75" fill="#8f9196" stroke="#8f9196" text-anchor="start" textLength="44" lengthAdjust="spacingAndGlyphs">65000.00</text>
<text x="972.6" y="324.2" font-size="9.75" fill="#8f9196" stroke="#8f9196" text-anchor="start">10K</text>
<text x="972.6" y="357.2" font-size="9.75" fill="#8f9196" stroke="#8f9196" text-anchor="start">8K</text>
<text x="972.6" y="390.2" font-size="9.75" fill="#8f9196" stroke="#8f9196" text-anchor="start">6K</text>
<text x="972.6" y="423.2" font-size="9.75" fill="#8f9196" stroke="#8f9196" text-anchor="start">4K</text>
<text x="972.6" y="456.2" font-size="9.75" fill="#8f9196" stroke="#8f9196" text-anchor="start">2K</text>
<text x="69.3" y="486.2" font-size="9.75" fill="#8f9196" stroke="#8f9196" text-anchor="middle">3</text>
<text x="155.5" y="486.2" font-size="9.75" fill="#8f9196" stroke="#8f9196" text-anchor="middle">4</text>
<text x="242" y="486.2" font-size="9.75" fill="#8f9196" stroke="#8f9196" text-anchor="middle">5</text>
<text x="328.4" y="486.2" font-size="9.75" fill="#8f9196" stroke="#8f9196" text-anchor="middle">6</text>
<text x="414.5" y="486.2" font-size="9.75" fill="#8f9196" stroke="#8f9196" text-anchor="middle">7</text>
<text x="501" y="486.2" font-size="9.75" fill="#8f9196" stroke="#8f9196" text-anchor="middle">8</text>
<text x="587.5" y="486.2" font-size="9.75" fill="#8f9196" stroke="#8f9196" text-anchor="middle">9</text>
<text x="674.5" y="486.2" font-size="9.75" fill="#8f9196" stroke="#8f9196" text-anchor="middle">10</text>
<text x="760.6" y="486.2" font-size="9.75" fill="#8f9196" stroke="#8f9196" text-anchor="middle">11</text>
<text x="847.1" y="486.2" font-size="9.75" fill="#8f9196" stroke="#8f9196" text-anchor="middle">12</text>
<text x="933.5" y="486.2" font-size="9.75" fill="#8f9196" stroke="#8f9196" text-anchor="middle">13</text>
<rect x="965.6" y="92.4" width="55.8" height="13.7" rx="1.5" fill="#ee5450"/>
<text x="972.5" y="102.6" font-size="9.75" fill="#fff" textLength="44" lengthAdjust="spacingAndGlyphs">71613.79</text>
<rect x="965.7" y="343.6" width="43.2" height="13.4" rx="1.5" fill="#f7941d"/>
<text x="972" y="353.2" font-size="9.75" fill="#1a1206" textLength="32.8" lengthAdjust="spacingAndGlyphs">8.207K</text>
<path d="M416.7 471.2H514.3V487.7Q514.3 489.9 512.1 489.9H418.9Q416.7 489.9 416.7 487.7Z" fill="#2962ff"/>
<text x="424" y="486.4" font-size="10.3" fill="#fff" textLength="83" lengthAdjust="spacingAndGlyphs" xml:space="preserve">07 Apr '26   14:00</text>
<circle cx="19.9" cy="447.8" r="13.2" fill="#141821" stroke="#3c3f48" stroke-width="1"/>
<path d="M11.1 444.3H19.1V452.8H15.1V446.8H11.1Z M23.7 444.3H28L24.5 452.8H20.8Z" fill="#fff"/><circle cx="20.9" cy="445.7" r="1.2" fill="#fff"/>
<path d="M989.6 482.6L992.6 477.6H998.6L1001.6 482.6L998.6 487.6H992.6Z" fill="none" stroke="#8f9196" stroke-width="1.3" stroke-linejoin="round"/>
<circle cx="995.6" cy="482.6" r="2" fill="none" stroke="#8f9196" stroke-width="1.2"/>
</svg>
</body></html>
